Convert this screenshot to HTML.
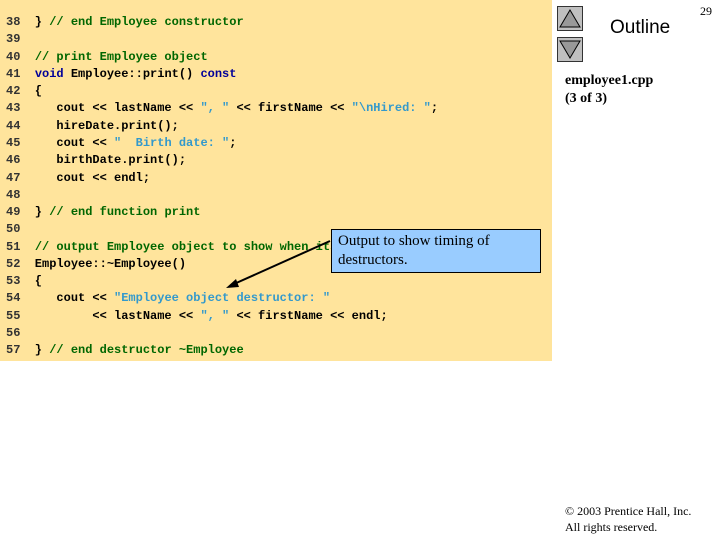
<!DOCTYPE html>
<html><head><style>
body{margin:0;width:720px;height:540px;background:#fff;position:relative;overflow:hidden}
#code{position:absolute;left:0;top:0;width:552px;height:361px;background:#ffe49c}
.l{position:absolute;left:6px;font:bold 12px "Liberation Mono",monospace;white-space:pre;color:#000;height:17px;line-height:17px}
.n{color:#333}
.c{color:#006600}.k{color:#000099}.s{color:#3399cc}
.btn{position:absolute;left:557px;width:26px;height:25px;background:#c0c0c0;border:1px solid #333;box-sizing:border-box}
</style></head><body>
<div id="code">
<div class="l" style="top:14px"><span class="n">38</span>  } <span class="c">// end Employee constructor</span></div>
<div class="l" style="top:31px"><span class="n">39</span></div>
<div class="l" style="top:49px"><span class="n">40</span>  <span class="c">// print Employee object</span></div>
<div class="l" style="top:66px"><span class="n">41</span>  <span class="k">void</span> Employee::print() <span class="k">const</span></div>
<div class="l" style="top:83px"><span class="n">42</span>  {</div>
<div class="l" style="top:100px"><span class="n">43</span>     cout &lt;&lt; lastName &lt;&lt; <span class="s">", "</span> &lt;&lt; firstName &lt;&lt; <span class="s">"\nHired: "</span>;</div>
<div class="l" style="top:118px"><span class="n">44</span>     hireDate.print();</div>
<div class="l" style="top:135px"><span class="n">45</span>     cout &lt;&lt; <span class="s">"  Birth date: "</span>;</div>
<div class="l" style="top:152px"><span class="n">46</span>     birthDate.print();</div>
<div class="l" style="top:170px"><span class="n">47</span>     cout &lt;&lt; endl;</div>
<div class="l" style="top:187px"><span class="n">48</span></div>
<div class="l" style="top:204px"><span class="n">49</span>  } <span class="c">// end function print</span></div>
<div class="l" style="top:221px"><span class="n">50</span></div>
<div class="l" style="top:239px"><span class="n">51</span>  <span class="c">// output Employee object to show when its destructor is called</span></div>
<div class="l" style="top:256px"><span class="n">52</span>  Employee::~Employee()</div>
<div class="l" style="top:273px"><span class="n">53</span>  {</div>
<div class="l" style="top:290px"><span class="n">54</span>     cout &lt;&lt; <span class="s">"Employee object destructor: "</span></div>
<div class="l" style="top:308px"><span class="n">55</span>          &lt;&lt; lastName &lt;&lt; <span class="s">", "</span> &lt;&lt; firstName &lt;&lt; endl;</div>
<div class="l" style="top:325px"><span class="n">56</span></div>
<div class="l" style="top:342px"><span class="n">57</span>  } <span class="c">// end destructor ~Employee</span></div>
</div>
<div style="position:absolute;left:331px;top:229px;width:210px;height:44px;background:#99ccff;border:1px solid #000;box-sizing:border-box;font:15px 'Liberation Serif',serif;line-height:19px;padding:2px 0 0 6px">Output to show timing of destructors.</div>
<svg style="position:absolute;left:0;top:0" width="720" height="540">
<line x1="330" y1="241" x2="234" y2="284" stroke="#000" stroke-width="2"/>
<polygon points="226,288 236,279 239,287" fill="#000"/>
</svg>
<div class="btn" style="top:6px"><svg width="24" height="23"><polygon points="12,3 22,20 2,20" fill="#999" stroke="#000"/></svg></div>
<div class="btn" style="top:37px"><svg width="24" height="23"><polygon points="2,3 22,3 12,20" fill="#999" stroke="#000"/></svg></div>
<div style="position:absolute;left:610px;top:17px;font:19px 'Liberation Sans',sans-serif">Outline</div>
<div style="position:absolute;left:700px;top:4px;font:12px 'Liberation Serif',serif">29</div>
<div style="position:absolute;left:565px;top:72px;font:bold 14px 'Liberation Serif',serif;line-height:18px">employee1.cpp<br>(3 of 3)</div>
<div style="position:absolute;left:565px;top:503px;font:12px 'Liberation Serif',serif;line-height:16px">© 2003 Prentice Hall, Inc.<br>All rights reserved.</div>
</body></html>
